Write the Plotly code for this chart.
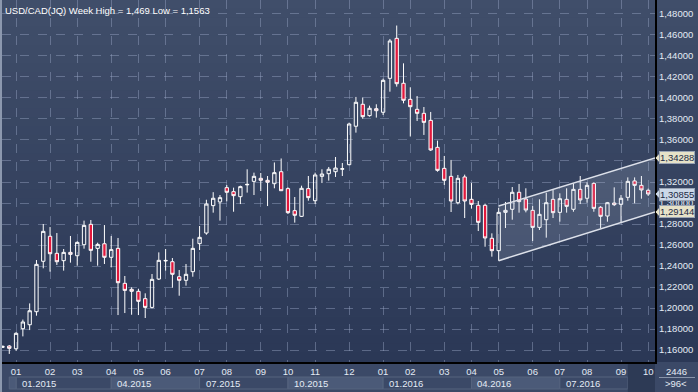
import plotly.graph_objects as go

# ---------------- data ----------------
week_idx = list(range(-1, 95))
open_ = [1.1625, 1.1638, 1.1612, 1.1803, 1.1841, 1.1965, 1.2445, 1.2683, 1.2521, 1.2451, 1.2530,
         1.2498, 1.2603, 1.2797, 1.2568, 1.2612, 1.2483, 1.2568, 1.2235, 1.2178, 1.2159,
         1.2089, 1.2006, 1.2276, 1.2448, 1.2441, 1.2298, 1.2264, 1.2346, 1.2613, 1.2714,
         1.2975, 1.3010, 1.3146, 1.3108, 1.3060, 1.3173, 1.3206, 1.3235, 1.3216, 1.3184,
         1.3298, 1.3137, 1.2927, 1.2873, 1.3137, 1.3022, 1.3254, 1.3279, 1.3298, 1.3322,
         1.3365, 1.3731, 1.3940, 1.3832, 1.3898, 1.3864, 1.4187, 1.4568, 1.4140, 1.3987,
         1.3892, 1.3854, 1.3787, 1.3530, 1.3330, 1.3254, 1.3003, 1.3248, 1.3035, 1.2978,
         1.2978, 1.2664, 1.2546, 1.2911, 1.2940, 1.3102, 1.3038, 1.2930, 1.2768, 1.2841,
         1.3035, 1.2911, 1.3035, 1.2940, 1.3130, 1.3045, 1.3187, 1.2959, 1.2876, 1.3000,
         1.2987, 1.3054, 1.3210, 1.3168, 1.3121]
high_ = [1.1640, 1.1648, 1.1770, 1.1890, 1.2044, 1.2457, 1.2800, 1.2771, 1.2714, 1.2562, 1.2686,
         1.2635, 1.2832, 1.2838, 1.2622, 1.2790, 1.2686, 1.2667, 1.2305, 1.2197, 1.2181,
         1.2140, 1.2324, 1.2530, 1.2562, 1.2476, 1.2362, 1.2419, 1.2660, 1.2781, 1.3031,
         1.3103, 1.3076, 1.3171, 1.3146, 1.3165, 1.3321, 1.3289, 1.3286, 1.3257, 1.3386,
         1.3424, 1.3149, 1.3057, 1.3165, 1.3257, 1.3289, 1.3321, 1.3343, 1.3438, 1.3381,
         1.3765, 1.4010, 1.4003, 1.3927, 1.3940, 1.4184, 1.4562, 1.4690, 1.4330, 1.4102,
         1.4019, 1.3914, 1.3867, 1.3594, 1.3448, 1.3410, 1.3267, 1.3270, 1.3190, 1.3019,
         1.2994, 1.2711, 1.2955, 1.3010, 1.3152, 1.3181, 1.3140, 1.2971, 1.3035, 1.3098,
         1.3124, 1.3092, 1.3140, 1.3187, 1.3257, 1.3197, 1.3197, 1.2971, 1.3010, 1.3149,
         1.3076, 1.3244, 1.3244, 1.3257, 1.3137]
low_ = [1.1620, 1.1563, 1.1593, 1.1730, 1.1790, 1.1927, 1.2378, 1.2346, 1.2410, 1.2356, 1.2432,
        1.2403, 1.2565, 1.2441, 1.2403, 1.2419, 1.2387, 1.1933, 1.1952, 1.1936, 1.1933,
        1.1905, 1.1997, 1.2267, 1.2356, 1.2194, 1.2117, 1.2213, 1.2298, 1.2552, 1.2698,
        1.2908, 1.2832, 1.3016, 1.2917, 1.2990, 1.3099, 1.3076, 1.3114, 1.2971, 1.3140,
        1.3114, 1.2895, 1.2813, 1.2867, 1.3022, 1.2990, 1.3190, 1.3213, 1.3248, 1.3257,
        1.3359, 1.3670, 1.3803, 1.3822, 1.3813, 1.3838, 1.4060, 1.4108, 1.3949, 1.3633,
        1.3781, 1.3648, 1.3495, 1.3298, 1.3171, 1.2914, 1.2987, 1.2857, 1.2946, 1.2733,
        1.2584, 1.2489, 1.2451, 1.2762, 1.2841, 1.2908, 1.2911, 1.2638, 1.2743, 1.2670,
        1.2857, 1.2822, 1.2908, 1.2917, 1.2990, 1.3003, 1.2917, 1.2759, 1.2822, 1.2971,
        1.2813, 1.3022, 1.2997, 1.3041, 1.3067]
close_ = [1.1636, 1.1616, 1.1759, 1.1867, 1.1974, 1.2416, 1.2730, 1.2517, 1.2441, 1.2530, 1.2511,
          1.2625, 1.2787, 1.2549, 1.2606, 1.2483, 1.2556, 1.2241, 1.2168, 1.2159, 1.2064,
          1.2006, 1.2273, 1.2454, 1.2453, 1.2321, 1.2264, 1.2321, 1.2568, 1.2673, 1.2990,
          1.3045, 1.3051, 1.3102, 1.3070, 1.3156, 1.3177, 1.3254, 1.3216, 1.3197, 1.3289,
          1.3117, 1.2908, 1.2883, 1.3140, 1.3051, 1.3267, 1.3276, 1.3321, 1.3333, 1.3326,
          1.3752, 1.3959, 1.3822, 1.3902, 1.3879, 1.4168, 1.4543, 1.4136, 1.3978, 1.3917,
          1.3854, 1.3768, 1.3505, 1.3311, 1.3216, 1.3019, 1.3235, 1.3019, 1.2987, 1.2816,
          1.2667, 1.2546, 1.2911, 1.2930, 1.3102, 1.3013, 1.2933, 1.2768, 1.2892, 1.3003,
          1.2908, 1.3041, 1.2968, 1.3130, 1.3029, 1.3168, 1.2949, 1.2873, 1.3003, 1.2984,
          1.3045, 1.3206, 1.3168, 1.3124, 1.30855]

month_ticks = [1, 6, 10, 15, 19, 23, 28, 32, 37, 41, 45, 50, 55, 59, 64, 68, 72, 77, 81, 85, 90, 94]
month_labels = ["01", "02", "03", "04", "05", "06", "07", "08", "09", "10", "11", "12",
                "01", "02", "03", "04", "05", "06", "07", "08", "09", "10"]
quarter_starts = [1, 15, 28, 41, 55, 68, 81]
quarter_labels = ["01.2015", "04.2015", "07.2015", "10.2015", "01.2016", "04.2016", "07.2016"]

price_ticks = [1.16, 1.18, 1.20, 1.22, 1.24, 1.26, 1.28, 1.30, 1.32, 1.34, 1.36, 1.38,
               1.40, 1.42, 1.44, 1.46, 1.48]
price_hidden = [1.34]          # fully covered by a price tag in the original

channel_x = [72, 95]
channel_upper = [1.2971, 1.34288]
channel_lower = [1.2451, 1.29144]
last_close = 1.30855

title_text = "USD/CAD(JQ) Week High = 1,469 Low = 1,1563"

# ---------------- layout constants ----------------
W, H = 698, 392
ML, MR, MT, MB = 2, 43, 0, 30
PW, PH = W - ML - MR, H - MT - MB
X_RANGE = [-1.07, 95.0]
Y_RANGE = [1.1486, 1.4933]
FONT = "Liberation Sans"
FS = 9.5
TXT = "#e4ebf5"

fig = go.Figure()

# channel (shaded parallelogram)
fig.add_trace(go.Scatter(
    x=[channel_x[0], channel_x[1], channel_x[1], channel_x[0], channel_x[0]],
    y=[channel_upper[0], channel_upper[1], channel_lower[1], channel_lower[0], channel_upper[0]],
    mode="lines", fill="toself", fillcolor="rgba(200,210,230,0.16)",
    line=dict(width=0), hoverinfo="skip", showlegend=False))
for yy in (channel_upper, channel_lower):
    fig.add_trace(go.Scatter(x=channel_x, y=yy, mode="lines",
                             line=dict(color="#dde1ea", width=1.5),
                             hoverinfo="skip", showlegend=False))

fig.add_trace(go.Candlestick(
    x=week_idx, open=open_, high=high_, low=low_, close=close_,
    increasing=dict(line=dict(color="#ffffff", width=1), fillcolor="rgba(0,0,0,0)"),
    decreasing=dict(line=dict(color="#ffffff", width=1), fillcolor="#e2183c"),
    whiskerwidth=0, showlegend=False))

shapes = []
# vertical gradient background in plot area + right panel
n = 40
top = (64, 78, 106)
bot = (43, 56, 86)
for k in range(n):
    t = k / (n - 1)
    c = tuple(int(round(top[j] + (bot[j] - top[j]) * t)) for j in range(3))
    shapes.append(dict(type="rect", xref="paper", yref="paper",
                       x0=-0.01, x1=1.08, y0=1 - (k + 1) / n, y1=1 - k / n + 0.001,
                       fillcolor="rgb(%d,%d,%d)" % c, line=dict(width=0), layer="below"))
# bottom strip background
shapes.append(dict(type="rect", xref="paper", yref="paper", x0=-0.01, x1=1.08,
                   y0=-MB / PH, y1=0, fillcolor="#3b4967",
                   line=dict(width=0), layer="below"))
# quarter boxes
ends = quarter_starts[1:] + [91.0]
for k, (s, e) in enumerate(zip(quarter_starts, ends)):
    light = k % 2 == 1
    shapes.append(dict(type="rect", xref="x", yref="paper", x0=s, x1=e,
                       y0=-27 / PH, y1=-15 / PH,
                       fillcolor="#4b5a78" if light else "#3b4967",
                       line=dict(color="#56647f", width=1), layer="below"))
shapes.append(dict(type="rect", xref="x", yref="paper", x0=0, x1=1,
                   y0=-27 / PH, y1=-15 / PH, fillcolor="#4b5a78",
                   line=dict(color="#56647f", width=1), layer="below"))
# current-period darker zone in the time axis
shapes.append(dict(type="rect", xref="x", yref="paper", x0=91.0, x1=95.0,
                   y0=-MB / PH, y1=0, fillcolor="#2d3a55",
                   line=dict(width=0), layer="below"))
# corner separator in bottom-right box
shapes.append(dict(type="line", xref="paper", yref="paper",
                   x0=(PW + 4) / PW, x1=(PW + 40) / PW,
                   y0=-15.5 / PH, y1=-15.5 / PH, line=dict(color="#8894aa", width=1)))
# left light border
shapes.append(dict(type="line", xref="paper", yref="paper", x0=-1 / PW, x1=-1 / PW,
                   y0=-MB / PH, y1=1, line=dict(color="#8c98ae", width=2)))

annotations = [
    dict(text=title_text, xref="paper", yref="paper", x=1 / PW, y=1 - 3 / PH,
         xanchor="left", yanchor="top", showarrow=False,
         font=dict(family=FONT, size=FS, color="#ffffff")),
]
for s, lab in zip(quarter_starts, quarter_labels):
    annotations.append(dict(text=lab, xref="x", yref="paper", x=s, y=-21 / PH,
                            xanchor="left", yanchor="middle", xshift=4, showarrow=False,
                            font=dict(family=FONT, size=FS, color=TXT)))
# price tags on the right axis (box + small pointer)
yspan = Y_RANGE[1] - Y_RANGE[0]
tags = [(channel_upper[1], "#e6e2c8"), (last_close, "#cbd8e8"), (channel_lower[1], "#e6e2c8")]
for val, bg in tags:
    d = 5.5 / PH * yspan
    shapes.append(dict(type="path", xref="paper", yref="y",
                       path="M %f,%f L %f,%f L %f,%f Z" % (1 + 1 / PW, val,
                                                           1 + 6 / PW, val + d,
                                                           1 + 6 / PW, val - d),
                       fillcolor=bg, line=dict(color=bg, width=1)))
    annotations.append(dict(text=("%.5f" % val).replace(".", ","), xref="paper", yref="y",
                            x=1, y=val, xanchor="left", yanchor="middle", xshift=4,
                            showarrow=False, bgcolor=bg, bordercolor="#9aa4b4", borderwidth=1,
                            borderpad=0, font=dict(family=FONT, size=FS, color="#1c2a44")))
annotations.append(dict(text="2446", xref="paper", yref="paper", x=(PW + 21) / PW, y=-9 / PH,
                        xanchor="center", yanchor="middle", showarrow=False,
                        font=dict(family=FONT, size=FS, color=TXT)))
annotations.append(dict(text="&gt;96&lt;", xref="paper", yref="paper", x=(PW + 21) / PW,
                        y=-21 / PH, xanchor="center", yanchor="middle", showarrow=False,
                        font=dict(family=FONT, size=FS, color=TXT)))

price_text = ["" if v in price_hidden else ("%.5f" % v).replace(".", ",") for v in price_ticks]

fig.update_layout(
    width=W, height=H, margin=dict(l=ML, r=MR, t=MT, b=MB, autoexpand=False),
    paper_bgcolor="#3a4866", plot_bgcolor="rgba(0,0,0,0)",
    separators=", ", shapes=shapes, annotations=annotations, showlegend=False,
    font=dict(family=FONT, size=FS, color=TXT),
)
fig.update_xaxes(
    range=X_RANGE, tickmode="array", tickvals=month_ticks, ticktext=month_labels,
    showgrid=True, gridcolor="rgba(150,165,195,0.45)", griddash="dash", gridwidth=1,
    zeroline=False, showline=True, linecolor="#000000", linewidth=2, ticks="",
    tickfont=dict(family=FONT, size=FS, color=TXT), rangeslider=dict(visible=False),
    fixedrange=True, automargin=False)
fig.update_yaxes(
    range=Y_RANGE, side="right", tickmode="array", tickvals=price_ticks, ticktext=price_text,
    showgrid=True, gridcolor="rgba(150,165,195,0.45)", griddash="dash", gridwidth=1,
    zeroline=False, showline=True, linecolor="#000000", linewidth=2, ticks="",
    tickfont=dict(family=FONT, size=FS, color=TXT), fixedrange=True, automargin=False)

fig.write_html("out.html", config={"displayModeBar": False},
               post_script="document.body.style.margin='0';document.body.style.overflow='hidden';")
